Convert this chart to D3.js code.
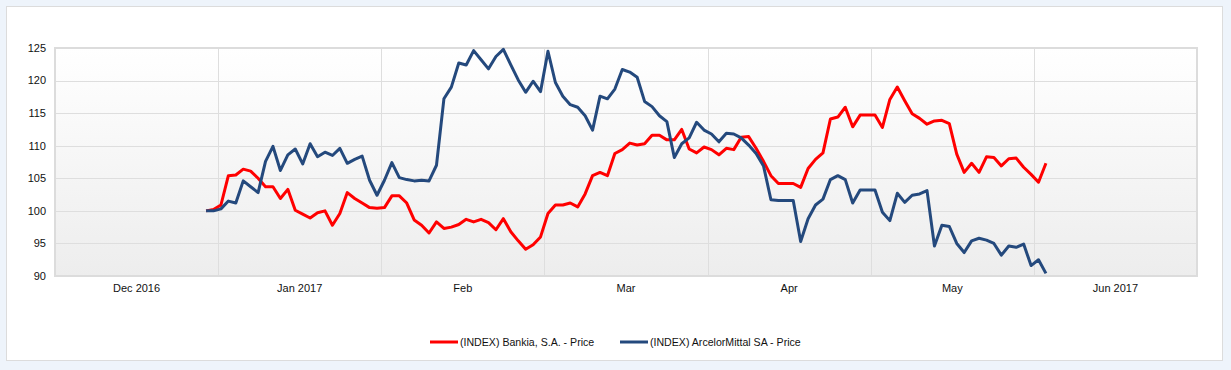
<!DOCTYPE html>
<html>
<head>
<meta charset="utf-8">
<script src="https://cdn.jsdelivr.net/npm/d3@7"></script>
<style>
  html, body { margin: 0; padding: 0; background: #eef4fb; }
  #container { width: 1231px; height: 370px; }
  text { font-family: Arial, "Liberation Sans", sans-serif; }
</style>
</head>
<body>
<div id="container"></div>
<script>
// Chart data (rebased to 100), one value per trading day
const bankia = [
  100, 100.2, 100.9, 105.4, 105.5, 106.4, 106.1, 105.0, 103.7, 103.7,
  101.9, 103.3, 100.1, 99.5, 98.9, 99.7, 100.0, 97.8, 99.6, 102.8,
  101.9, 101.2, 100.5, 100.4, 100.5, 102.3, 102.3, 101.2, 98.6, 97.8,
  96.6, 98.3, 97.3, 97.5, 97.9, 98.7, 98.3, 98.7, 98.2, 97.1,
  98.8, 96.8, 95.4, 94.1, 94.8, 96.0, 99.6, 100.9, 100.9, 101.2,
  100.6, 102.6, 105.4, 105.9, 105.4, 108.8, 109.4, 110.4, 110.1, 110.3,
  111.6, 111.6, 110.9, 110.9, 112.5, 109.5, 108.9, 109.8, 109.4, 108.6,
  109.6, 109.4, 111.3, 111.4, 109.6, 107.6, 105.4, 104.2, 104.2, 104.2,
  103.6, 106.5, 107.9, 108.9, 114.1, 114.4, 115.9, 112.9, 114.7, 114.7,
  114.7, 112.8, 117.1, 119.0, 116.9, 114.9, 114.2, 113.3, 113.8, 113.9,
  113.4, 108.7, 105.9, 107.3, 105.9, 108.3, 108.2, 106.9, 108.0, 108.1,
  106.7, 105.6, 104.4, 107.3
];

const arcelor = [
  100, 100.0, 100.3, 101.5, 101.2, 104.6, 103.7, 102.8, 107.6, 109.9,
  106.2, 108.6, 109.5, 107.2, 110.3, 108.3, 109.0, 108.5, 109.6, 107.3,
  107.9, 108.4, 104.7, 102.4, 104.7, 107.4, 105.1, 104.8, 104.6, 104.7,
  104.6, 107.0, 117.2, 119.0, 122.7, 122.4, 124.6, 123.2, 121.8, 123.7,
  124.8, 122.4, 120.1, 118.2, 119.9, 118.3, 124.5, 119.7, 117.6, 116.3,
  115.9, 114.6, 112.4, 117.6, 117.2, 118.7, 121.7, 121.3, 120.5, 116.8,
  116.0, 114.6, 113.7, 108.2, 110.3, 111.2, 113.6, 112.4, 111.8, 110.6,
  111.9, 111.8, 111.2, 110.1, 108.8, 106.9, 101.7, 101.6, 101.6, 101.6,
  95.3, 98.8, 100.9, 101.8, 104.8, 105.4, 104.8, 101.2, 103.2, 103.2,
  103.2, 99.8, 98.5, 102.7, 101.3, 102.4, 102.6, 103.1, 94.6, 97.8,
  97.6, 95.0, 93.6, 95.4, 95.8, 95.5, 95.0, 93.2, 94.6, 94.4,
  94.9, 91.6, 92.5, 90.4
];

const monthLabels = ["Dec 2016", "Jan 2017", "Feb", "Mar", "Apr", "May", "Jun 2017"];
const yTicks = [90, 95, 100, 105, 110, 115, 120, 125];

const seriesNames = ["(INDEX) Bankia, S.A. - Price", "(INDEX) ArcelorMittal SA - Price"];
const seriesColors = ["#ff0000", "#24497d"];

// first data point sits late in Dec, months are drawn with equal width
const startMonth = 0.926;
const pointsPerMonth = 21.95;

const width = 1231;
const height = 370;
const margin = { top: 48, right: 34, bottom: 94, left: 55 };

const svg = d3.select("#container")
    .append("svg")
    .attr("width", width)
    .attr("height", height);

// white panel
svg.append("rect")
    .attr("x", 6.5).attr("y", 6.5)
    .attr("width", 1216).attr("height", 354)
    .attr("fill", "#fff")
    .attr("stroke", "#dcdcdc");

const defs = svg.append("defs");
const grad = defs.append("linearGradient")
    .attr("id", "plotBg")
    .attr("x1", 0).attr("y1", 0).attr("x2", 0).attr("y2", 1);
grad.append("stop").attr("offset", "0%").attr("stop-color", "#ffffff");
grad.append("stop").attr("offset", "100%").attr("stop-color", "#ededed");

const x = d3.scaleLinear()
    .domain([0, monthLabels.length])
    .range([margin.left, width - margin.right]);

const y = d3.scaleLinear()
    .domain([90, 125])
    .range([height - margin.bottom, margin.top]);

const xPos = i => x(startMonth + i / pointsPerMonth);

// plot background
svg.append("rect")
    .attr("x", x(0)).attr("y", y(125))
    .attr("width", x(monthLabels.length) - x(0))
    .attr("height", y(90) - y(125))
    .attr("fill", "url(#plotBg)");

// grid lines
svg.append("g")
    .attr("stroke", "#dedede")
    .attr("stroke-width", 1)
    .selectAll("line.h")
    .data(yTicks.slice(1, -1))
    .join("line")
    .attr("x1", x(0)).attr("x2", x(monthLabels.length))
    .attr("y1", d => Math.round(y(d)) + 0.5)
    .attr("y2", d => Math.round(y(d)) + 0.5);

svg.append("g")
    .attr("stroke", "#dedede")
    .attr("stroke-width", 1)
    .selectAll("line.v")
    .data(d3.range(1, monthLabels.length))
    .join("line")
    .attr("x1", d => Math.round(x(d)) + 0.5)
    .attr("x2", d => Math.round(x(d)) + 0.5)
    .attr("y1", y(125)).attr("y2", y(90));

// plot frame
svg.append("rect")
    .attr("x", x(0)).attr("y", y(125))
    .attr("width", x(monthLabels.length) - x(0))
    .attr("height", y(90) - y(125))
    .attr("fill", "none")
    .attr("stroke", "#dcdcdc")
    .attr("stroke-width", 2);

// y axis labels
svg.append("g")
    .selectAll("text")
    .data(yTicks)
    .join("text")
    .attr("x", 46)
    .attr("y", d => y(d))
    .attr("dy", "0.35em")
    .attr("text-anchor", "end")
    .attr("font-size", "11px")
    .attr("fill", "#111")
    .text(d => d);

// x axis labels, centred in each month
svg.append("g")
    .selectAll("text")
    .data(monthLabels)
    .join("text")
    .attr("x", (d, i) => x(i + 0.5))
    .attr("y", 288)
    .attr("dy", "0.35em")
    .attr("text-anchor", "middle")
    .attr("font-size", "11px")
    .attr("fill", "#111")
    .text(d => d);

// lines
const line = d3.line()
    .x((d, i) => xPos(i))
    .y(d => y(d));

[bankia, arcelor].forEach((series, k) => {
    svg.append("path")
        .datum(series)
        .attr("fill", "none")
        .attr("stroke", seriesColors[k])
        .attr("stroke-width", 3)
        .attr("stroke-linejoin", "round")
        .attr("d", line);
});

// legend
const legendX = [430, 620];
const legend = svg.append("g");
seriesNames.forEach((name, k) => {
    legend.append("line")
        .attr("x1", legendX[k]).attr("x2", legendX[k] + 28)
        .attr("y1", 342).attr("y2", 342)
        .attr("stroke", seriesColors[k])
        .attr("stroke-width", 3);
    legend.append("text")
        .attr("x", legendX[k] + 30)
        .attr("y", 342)
        .attr("dy", "0.35em")
        .attr("font-size", "10.6px")
        .attr("fill", "#111")
        .text(name);
});
</script>
</body>
</html>
